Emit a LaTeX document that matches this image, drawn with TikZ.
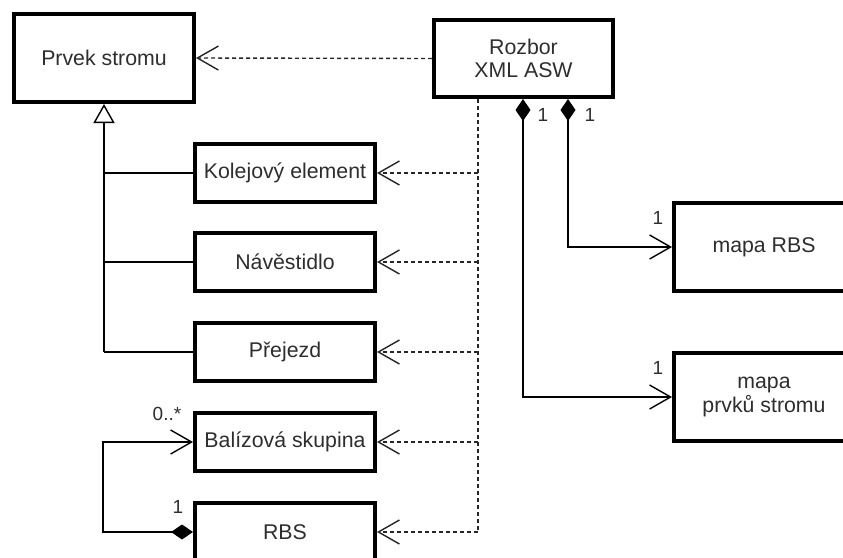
\documentclass[tikz,border=0pt]{standalone}
\usepackage{fontspec}
\setmainfont{Liberation Sans}
\usetikzlibrary{arrows.meta}
\definecolor{txt}{HTML}{2E2E2E}
\begin{document}
\begin{tikzpicture}[x=1pt,y=-1pt,
  box/.style={draw=black, line width=4pt, minimum width=180pt, minimum height=58pt, inner sep=0pt, text=txt, font=\fontsize{21.3pt}{23.5pt}\selectfont, align=center, fill=white},
  conn/.style={line width=1.4pt, draw=black},
  barb/.style={-{Straight Barb[length=21pt,width=24pt,line width=1.4pt]}},
  dashl/.style={conn, draw=black!85, dash pattern=on 4pt off 3pt},
  dep/.style={dashl, barb},
  comp/.style={conn, {Diamond[length=22pt,width=15pt,fill=black]}-{Straight Barb[length=21pt,width=24pt,line width=1.4pt]}},
  lbl/.style={text=txt, font=\fontsize{19pt}{21pt}\selectfont, inner sep=0pt}
]
\useasboundingbox (0,0) rectangle (843,557);
\clip (0,0) rectangle (843,557);
\fill[white] (0,0) rectangle (843,557);

\node[box, minimum height=88pt] (prvek) at (104,58) {Prvek stromu};
\node[box, minimum width=179pt, minimum height=77pt] (rozbor) at (523.5,58.5) {Rozbor\\XML ASW};
\node[box] (kolej) at (285,173) {Kolejový element};
\node[box] (navest) at (285,262) {Návěstidlo};
\node[box] (prejezd) at (285,352) {Přejezd};
\node[box] (baliz) at (285,442) {Balízová skupina};
\node[box] (rbs) at (285,532) {RBS};
\node[box, minimum height=88pt] (mapar) at (764,247) {mapa RBS};
\node[box, minimum height=88pt] (mapap) at (764,397) {mapa\\prvků stromu};

\coordinate (tx) at (478,0);
\coordinate (c1) at (523,0);
\coordinate (c2) at (568,0);
\coordinate (lx) at (103,0);

% dependency from Rozbor to Prvek stromu
\draw[dep] (rozbor.west) -- (prvek.east);

% dashed trunk and branches
\draw[dashl] (rozbor.south -| tx) -- (rbs -| tx);
\draw[dep] (kolej -| tx) -- (kolej.east);
\draw[dep] (navest -| tx) -- (navest.east);
\draw[dep] (prejezd -| tx) -- (prejezd.east);
\draw[dep] (baliz -| tx) -- (baliz.east);
\draw[dep] (rbs -| tx) -- (rbs.east);

% compositions
\draw[comp] (rozbor.south -| c2) |- (mapar.west);
\draw[comp] (rozbor.south -| c1) |- (mapap.west);

% generalization
\draw[conn, {Triangle[open,length=19pt,width=21pt,line width=1.4pt,fill=white]}-] (prvek.south) -- (prvek.south |- prejezd);
\draw[conn] (prvek.south |- kolej) -- (kolej.west);
\draw[conn] (prvek.south |- navest) -- (navest.west);
\draw[conn] (prvek.south |- prejezd) -- (prejezd.west);

% self association RBS -> Balizova skupina
\draw[comp] (rbs.west) -- (rbs -| lx) -- (baliz -| lx) -- (baliz.west);

% multiplicities
\node[lbl] (m1) at (543,115) {1};
\node[lbl] (m2) at (590,115) {1};
\node[lbl] (m3) at (658,218) {1};
\node[lbl] (m4) at (658,368) {1};
\node[lbl] (m5) at (167,414) {0..*};
\node[lbl] (m6) at (178,507) {1};
\end{tikzpicture}
\end{document}
